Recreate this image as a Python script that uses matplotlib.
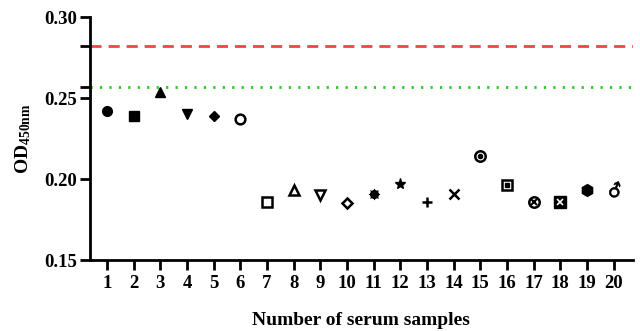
import numpy as np
import matplotlib
matplotlib.use('Agg')
import matplotlib.pyplot as plt
from matplotlib.textpath import TextPath
from matplotlib.font_manager import FontProperties
from matplotlib.path import Path

plt.rcParams['font.family'] = 'Liberation Serif'
plt.rcParams['font.weight'] = 'bold'
plt.rcParams['mathtext.fontset'] = 'custom'
plt.rcParams['mathtext.rm'] = 'Liberation Serif:bold'
plt.rcParams['mathtext.bf'] = 'Liberation Serif:bold'
plt.rcParams['mathtext.default'] = 'bf'

samples = list(range(1, 21))
od450 = [0.242, 0.239, 0.254, 0.240, 0.239, 0.237, 0.186, 0.193, 0.190, 0.185,
         0.191, 0.197, 0.186, 0.191, 0.214, 0.196, 0.186, 0.186, 0.193, 0.193]
cutoff_red = 0.282
cutoff_green = 0.257

# male sign marker built from DejaVu glyph, tilted so the arrow points up
tp = TextPath((0, 0), '\u2642', prop=FontProperties(family='DejaVu Sans', weight='bold'))
v = tp.vertices.copy()
v -= (v.min(axis=0) + v.max(axis=0)) / 2
a = np.deg2rad(25)
rot = np.array([[np.cos(a), -np.sin(a)], [np.sin(a), np.cos(a)]])
male = Path(v @ rot.T, tp.codes)

# marker style per sample: (marker, filled, size)
styles = [('o', True, 7), ('s', True, 6.5), ('^', True, 7), ('v', True, 7),
          ('D', True, 5.5), ('o', False, 7), ('s', False, 7.5), ('^', False, 7.5),
          ('v', False, 7.5), ('D', False, 5.5), ((8, 1, 0), True, 8), ('*', True, 8),
          ('+', True, 7.5), ('x', True, 7.5), ('o', False, 7.5), ('s', False, 7.5),
          ('o', False, 7.5), ('s', True, 8), ('h', True, 8.5), (male, True, 13)]

fig = plt.figure(figsize=(6.4, 3.31), dpi=100)
ax = fig.add_axes([0.1406, 0.2145, 0.848, 0.734])

for x, y, (m, filled, ms) in zip(samples, od450, styles):
    if isinstance(m, (tuple, Path)) or m in ('+', 'x'):
        ax.plot(x, y, marker=m, color='black', ms=ms, mew=1.8 if m in ('+', 'x') else 0.5, ls='none')
    elif filled:
        ax.plot(x, y, marker=m, color='black', ms=ms, ls='none')
    else:
        ax.plot(x, y, marker=m, mfc='white', mec='black', ms=ms, mew=1.8, ls='none')

# inner symbols for the compound markers
ax.plot(11, od450[10], marker='o', color='black', ms=5.5, ls='none')
ax.plot(15, od450[14], marker='o', color='black', ms=3, ls='none')
ax.plot(16, od450[15], marker='s', color='black', ms=2.5, ls='none')
ax.plot(17, od450[16], marker='x', color='black', ms=4, mew=1.5, ls='none')
ax.plot(18, od450[17], marker='x', color='white', ms=4, mew=1.2, ls='none')

ax.axhline(cutoff_red, color='#f04545', lw=2, ls=(0, (4, 2.5)))
ax.axhline(cutoff_green, color='#22cc22', lw=2, ls=(0, (0.8, 2.6)))

ax.set_xlim(0.36, 20.72)
ax.set_ylim(0.15, 0.30)
ax.set_xticks(samples)
ax.set_yticks([0.15, 0.20, 0.25, 0.30])
ax.set_yticklabels(['0.15', '0.20', '0.25', '0.30'])
ax.set_yticks([cutoff_green, cutoff_red], minor=True)
ax.tick_params(axis='y', which='minor', length=7, width=2)
ax.tick_params(axis='both', which='major', length=7, width=2, labelsize=13.5, pad=2)
ax.tick_params(axis='x', pad=4)

for s in ['top', 'right']:
    ax.spines[s].set_visible(False)
for s in ['left', 'bottom']:
    ax.spines[s].set_linewidth(2)

ax.set_xlabel('Number of serum samples', fontsize=14, fontweight='bold', labelpad=14)
ax.set_ylabel(r'OD$_{450nm}$', fontsize=14, fontweight='bold', labelpad=8)

fig.savefig('out.png', dpi=100)
